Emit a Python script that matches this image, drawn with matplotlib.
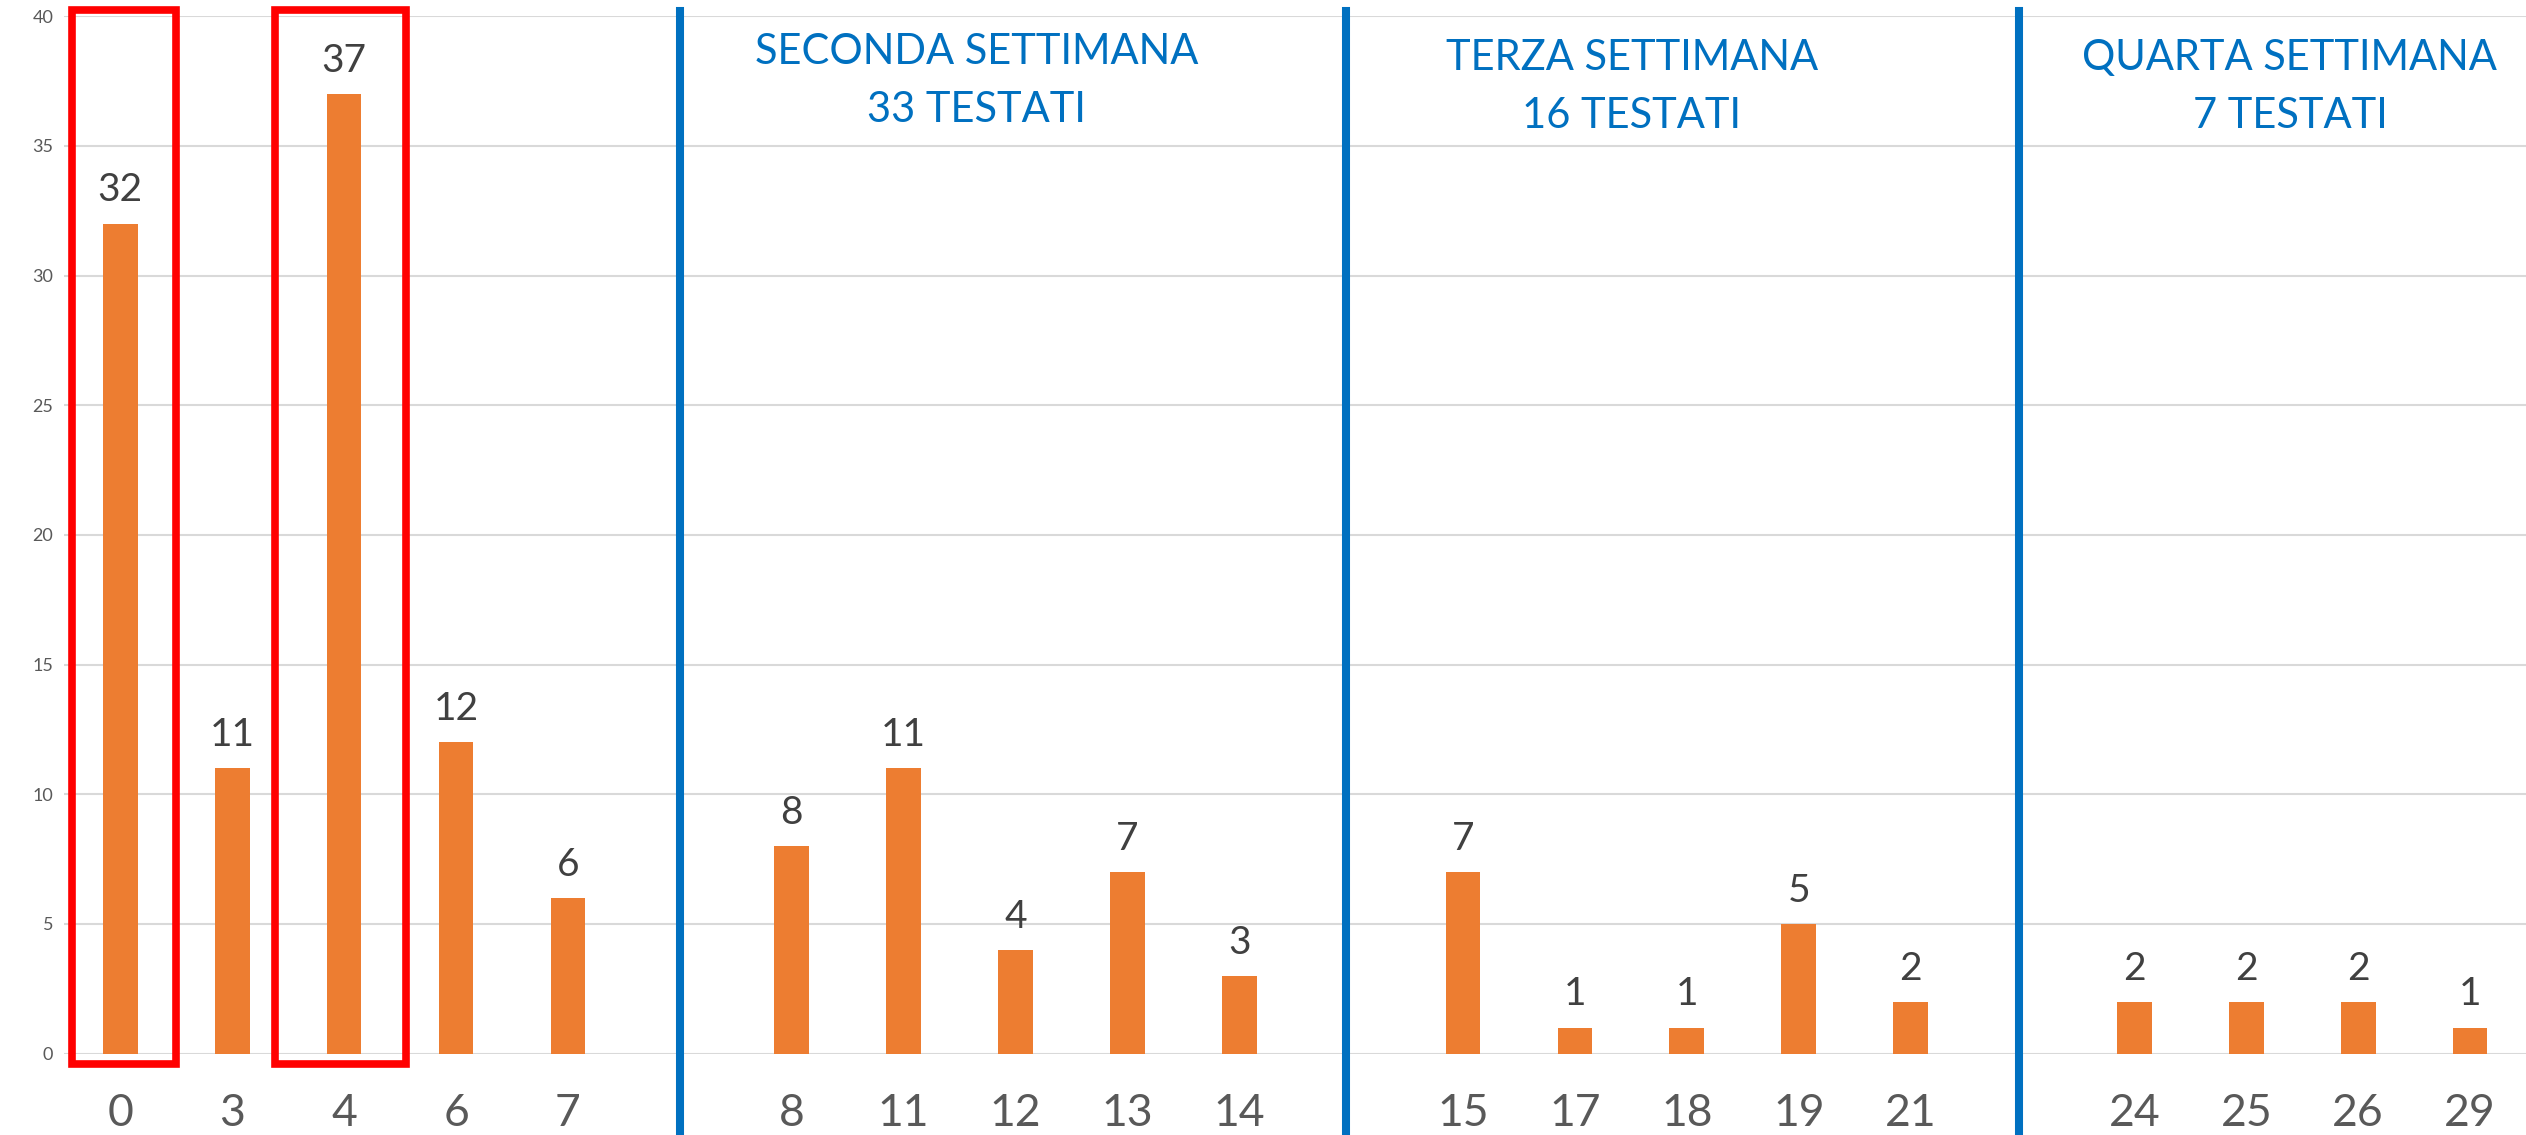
import matplotlib
matplotlib.use("Agg")
import matplotlib.pyplot as plt
from matplotlib.patches import Rectangle

plt.rcParams['font.family'] = ['Lato', 'DejaVu Sans']

# days since first contact -> number of cases
groups = [
    ["0", "3", "4", "6", "7"],
    ["8", "11", "12", "13", "14"],
    ["15", "17", "18", "19", "21"],
    ["24", "25", "26", "29"],
]
values = [32, 11, 37, 12, 6,
          8, 11, 4, 7, 3,
          7, 1, 1, 5, 2,
          2, 2, 2, 1]
week_titles = ["SECONDA SETTIMANA", "TERZA SETTIMANA", "QUARTA SETTIMANA"]
week_counts = ["33 TESTATI", "16 TESTATI", "7 TESTATI"]
highlighted = ["0", "4"]

BAR = '#ED7D31'
BLUE = '#0070C0'
GRID = '#D9D9D9'

# one empty slot between weeks
labels, pos = [], []
slot = 0
for g in groups:
    for lab in g:
        labels.append(lab)
        pos.append(slot)
        slot += 1
    slot += 1

fig = plt.figure(figsize=(25.26, 11.35), dpi=100)
ax = fig.add_axes([0.0255, 0.0717, 0.9745, 0.914])

ax.bar(pos, values, width=0.31, color=BAR, zorder=3)
for x, v in zip(pos, values):
    ax.annotate(str(v), (x, v), xytext=(0, 16), textcoords='offset points',
                ha='center', va='baseline', fontsize=28, color='#404040')

ax.set_xlim(-0.5, pos[-1] + 0.5)
ax.set_ylim(0, 40)
ax.set_yticks(range(0, 41, 5))
ax.set_xticks(pos)
ax.set_xticklabels(labels)
ax.tick_params(axis='x', length=0, labelsize=32, labelcolor='#595959', pad=28)
ax.tick_params(axis='y', length=0, labelsize=13, labelcolor='#595959', pad=8)
ax.grid(axis='y', color=GRID, lw=1.5, zorder=0)
for s in ax.spines.values():
    s.set_visible(False)

# week separators
for xs in [5, 10.95, 16.97]:
    ax.plot([xs, xs], [40.2, -3.2], color=BLUE, lw=5.8, clip_on=False, zorder=4)

# week captions
for xc, y1, y2, t, c in zip([7.65, 13.51, 19.39], [38.17, 37.91, 37.91],
                            [35.93, 35.69, 35.69], week_titles, week_counts):
    ax.text(xc, y1, t, ha='center', va='baseline', fontsize=30, color=BLUE)
    ax.text(xc, y2, c, ha='center', va='baseline', fontsize=30, color=BLUE)

# red boxes around highlighted days
for lab in highlighted:
    x = pos[labels.index(lab)]
    x0 = x - 0.43 if lab == "0" else x - 0.62
    x1 = x + 0.50 if lab == "0" else x + 0.55
    ax.add_patch(Rectangle((x0, -0.4), x1 - x0, 40.65, fill=False,
                           edgecolor='#FF0000', lw=5.5, clip_on=False, zorder=5))

fig.savefig("out.png", dpi=100)
